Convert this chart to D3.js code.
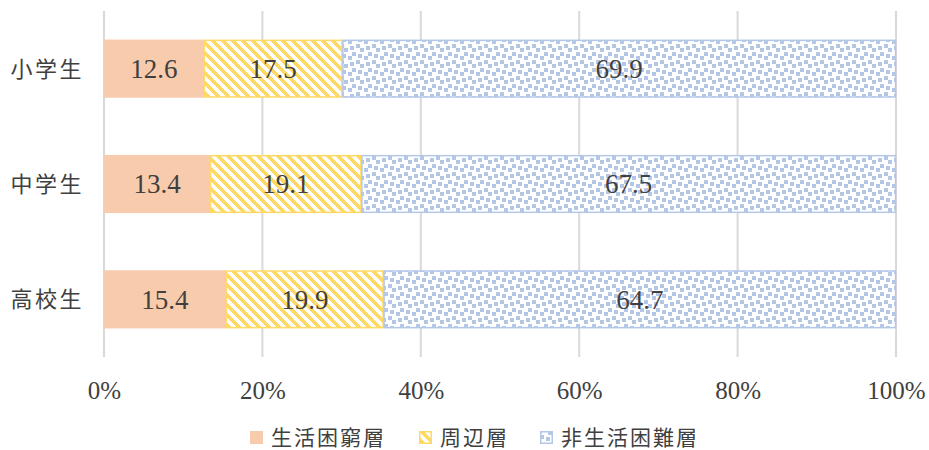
<!DOCTYPE html>
<html lang="ja">
<head>
<meta charset="utf-8">
<script src="https://cdn.jsdelivr.net/npm/d3@7"></script>
<style>
  html, body { margin: 0; padding: 0; background: #fff; }
  svg { display: block; }
  .num { font-family: "Liberation Serif", "DejaVu Serif", serif; fill: #404040; }
  .jp { font-family: "Noto Sans CJK JP", "Noto Sans", sans-serif; fill: #404040; }
</style>
</head>
<body>
<svg id="chart" width="929" height="450"></svg>
<script>
// Categories (school level) and the share of each household group (%)
const categories = ["小学生", "中学生", "高校生"];
const seriesNames = ["生活困窮層", "周辺層", "非生活困難層"];
const poverty    = [12.6, 13.4, 15.4];
const marginal   = [17.5, 19.1, 19.9];
const nonPoverty = [69.9, 67.5, 64.7];
const tickValues = [0, 20, 40, 60, 80, 100];

const seriesValues = [poverty, marginal, nonPoverty];

const svg = d3.select("#chart");
const defs = svg.append("defs");

// Wide downward diagonal hatch (yellow), stepped pixel stripes
const P = 10, W = 5;
const diag = defs.append("pattern")
  .attr("id", "pat-diag").attr("patternUnits", "userSpaceOnUse")
  .attr("width", P).attr("height", P);
diag.append("rect").attr("width", P).attr("height", P).attr("fill", "#fff");
for (let r = 0; r < P; r++) {
  for (let k = 0; k < W; k++) {
    const c = (r + k) % P;
    diag.append("rect").attr("x", c).attr("y", r).attr("width", 1).attr("height", 1)
      .attr("fill", "#FFD966").attr("shape-rendering", "crispEdges");
  }
}

// Large confetti hatch (blue), 8x8 bitmap drawn at 2px per cell
const confettiBits = [0x8d, 0x0c, 0xc0, 0xd8, 0x1b, 0x03, 0x30, 0xb1];
const conf = defs.append("pattern")
  .attr("id", "pat-conf").attr("patternUnits", "userSpaceOnUse")
  .attr("width", 16).attr("height", 16);
conf.append("rect").attr("width", 16).attr("height", 16).attr("fill", "#fff");
confettiBits.forEach((b, r) => {
  for (let c = 0; c < 8; c++) {
    if (b & (0x80 >> c)) {
      conf.append("rect").attr("x", c * 2).attr("y", r * 2).attr("width", 2).attr("height", 2)
        .attr("fill", "#B4C7E7").attr("shape-rendering", "crispEdges");
    }
  }
});

const fills   = ["#F8CBAD", "url(#pat-diag)", "url(#pat-conf)"];
const strokes = ["#F8CBAD", "#FFD966", "#B4C7E7"];

const x = d3.scaleLinear().domain([0, 100]).range([104, 896]);
const y = d3.scaleBand().domain(categories).range([11, 357])
  .paddingInner(0.5).paddingOuter(0.25);

// Vertical gridlines
svg.append("g").selectAll("line").data(tickValues).join("line")
  .attr("x1", d => x(d)).attr("x2", d => x(d))
  .attr("y1", 11).attr("y2", 357)
  .attr("stroke", "#D9D9D9").attr("stroke-width", 2);

// Stacked segments
const rows = categories.map((cat, i) => {
  let acc = 0;
  return seriesValues.map((vals, s) => {
    const seg = { cat, s, v: vals[i], x0: acc, x1: acc + vals[i] };
    acc += vals[i];
    return seg;
  });
}).flat();

svg.append("g").selectAll("rect").data(rows).join("rect")
  .attr("x", d => x(d.x0) + 0.5)
  .attr("y", d => y(d.cat) + 0.5)
  .attr("width", d => x(d.x1) - x(d.x0) - 1)
  .attr("height", y.bandwidth() - 1)
  .attr("fill", d => fills[d.s])
  .attr("stroke", d => strokes[d.s])
  .attr("stroke-width", 1.5);

// Value labels
svg.append("g").selectAll("text").data(rows).join("text")
  .attr("class", "num")
  .attr("x", d => x((d.x0 + d.x1) / 2))
  .attr("y", d => y(d.cat) + y.bandwidth() / 2)
  .attr("dy", "0.35em")
  .attr("text-anchor", "middle")
  .attr("font-size", 27)
  .text(d => d.v.toFixed(1));

// Category labels
svg.append("g").selectAll("text").data(categories).join("text")
  .attr("class", "jp")
  .attr("x", 84)
  .attr("y", d => y(d) + y.bandwidth() / 2)
  .attr("dy", "0.36em")
  .attr("text-anchor", "end")
  .attr("font-size", 22)
  .attr("letter-spacing", "2.5px")
  .text(d => d);

// Percentage axis
const axis = d3.axisBottom(x).tickValues(tickValues).tickSize(0).tickPadding(0)
  .tickFormat(d => d + "%");
const ax = svg.append("g").attr("transform", "translate(0,390)").call(axis);
ax.select(".domain").remove();
ax.selectAll("text")
  .attr("class", "num").attr("font-size", 25).attr("dy", "0.35em").attr("y", 0)
  .style("fill", "#404040");

// Legend
const legendX = [250, 419, 540];
const lg = svg.append("g").selectAll("g").data(seriesNames).join("g")
  .attr("transform", (d, i) => `translate(${legendX[i]},431)`);
lg.append("rect")
  .attr("x", 0.75).attr("y", 0.75).attr("width", 11.5).attr("height", 11.5)
  .attr("fill", (d, i) => fills[i]).attr("stroke", (d, i) => strokes[i]).attr("stroke-width", 1.5);
lg.append("text")
  .attr("class", "jp").attr("x", 21).attr("y", 6.5).attr("dy", "0.36em")
  .attr("font-size", 21).attr("letter-spacing", "2px").text(d => d);
</script>
</body>
</html>
